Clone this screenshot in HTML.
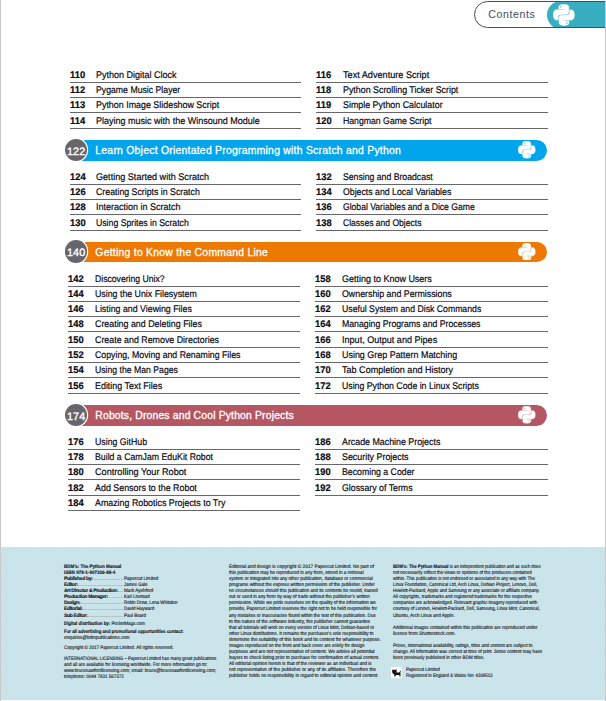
<!DOCTYPE html>
<html><head><meta charset="utf-8"><title>Contents</title>
<style>
html,body{margin:0;padding:0;background:#fff}
body{width:606px;height:701px;position:relative;overflow:hidden;font-family:"Liberation Sans",sans-serif;color:#111}
.edge{position:absolute;top:0;width:1px;height:701px;background:#c8c8c8;z-index:5}
.tab{position:absolute;left:474px;top:1px;width:140px;height:25px;border:1px solid #4c4c52;border-radius:14px 0 0 14px;background:#fff;overflow:hidden}
.tab .teal{position:absolute;left:72px;top:-1px;width:90px;height:28px;background:#3aaec1;border-radius:14px 0 0 14px}
.tab .lbl{position:absolute;left:13.3px;top:0;line-height:25.4px;font-size:10.6px;color:#50566a;white-space:nowrap;-webkit-text-stroke:0.1px #50566a}
.py{position:absolute}
.n,.t{position:absolute;font-size:9.7px;line-height:12px;white-space:nowrap;color:#0a0a14;transform-origin:0 9.36px;text-rendering:geometricPrecision}
.n{font-weight:bold;transform:scale(0.965,1);-webkit-text-stroke:0.2px #0a0a14}
.t{-webkit-text-stroke:0.2px #0a0a18}
.bar{position:absolute;left:76px;width:471px;border-radius:0 10.4px 10.4px 0}
.ht{position:absolute;left:95.3px;line-height:20.8px;font-size:10.4px;font-weight:normal;color:#fff;white-space:nowrap;-webkit-text-stroke:0.3px #fff}
.circ{position:absolute;left:64.8px;width:22.6px;height:22.6px;border-radius:50%;background:#67666c;box-shadow:0 0 0 1.2px #fff;color:#fff;font-size:10.8px;line-height:26px;text-align:center;letter-spacing:0.05px;-webkit-text-stroke:0.35px #fff;text-rendering:geometricPrecision}
.circ span{margin-right:-0.05px}
.foot{position:absolute;left:1px;top:547px;width:604px;height:153px;background-color:#cbe5ea;background-image:linear-gradient(135deg,#c7e2e8 25%,#cfe7ec 25%,#cfe7ec 50%,#c7e2e8 50%,#c7e2e8 75%,#cfe7ec 75%);background-size:3px 3px}
.fl{position:absolute;font-size:5px;line-height:6px;white-space:nowrap;color:#14141a;transform-origin:0 50%;text-rendering:geometricPrecision;-webkit-text-stroke:0.12px #14141a}
.fk{display:flex;overflow:hidden;transform:none}
.fk b{flex:none;letter-spacing:-0.33px}
.dots{flex:1;overflow:hidden;letter-spacing:0.1px;direction:rtl;text-align:right;-webkit-text-stroke:0;color:#333}
.ln{position:absolute;height:1px;background:#67666c}
</style></head><body>
<div class="edge" style="left:0"></div><div class="edge" style="left:605px"></div>
<div class="tab"><div class="lbl" id="lbl" style="letter-spacing:0.592px">Contents</div><div class="teal"></div></div>

<svg class="py" style="left:553.30px;top:3.85px;width:21.8px;height:21.8px" viewBox="0 0 110 110"><g fill="#fff" stroke="#fff" stroke-width="2.4" stroke-linejoin="round"><path d="M54.3 2C27.5 2 29.2 13.6 29.2 13.6v12h25.5v3.6H19S2 27.3 2 54.3s14.9 26 14.9 26h8.9V67.8s-.5-14.9 14.7-14.9h25.3s14.2.2 14.2-13.700V15.7S82.100 2 54.3 2zM40.2 10.1a4.600 4.600 0 1 1 0 9.2 4.600 4.600 0 1 1 0-9.2z"/><path d="M55.7 108c26.8 0 25.1-11.6 25.1-11.6v-12H55.3v-3.6H91s17 1.9 17-25.1-14.9-26-14.9-26h-8.900v12.5s.5 14.9-14.7 14.9H44.2s-14.2-.2-14.2 13.700v23.500S27.900 108 55.700 108zm14.100-8.100a4.600 4.600 0 1 1 0-9.200 4.600 4.600 0 1 1 0 9.200z"/></g></svg>
<div class="n" style="left:69.5px;top:69.7px">110</div><div class="t" id="r0l0" style="left:95.8px;top:69.7px;transform:scale(0.9283,1)">Python Digital Clock</div>
<div class="n" style="left:69.5px;top:84.7px">112</div><div class="t" id="r0l1" style="left:95.8px;top:84.7px;transform:scale(0.8992,1)">Pygame Music Player</div>
<div class="n" style="left:69.5px;top:99.7px">113</div><div class="t" id="r0l2" style="left:95.8px;top:99.7px;transform:scale(0.9182,1)">Python Image Slideshow Script</div>
<div class="n" style="left:69.5px;top:115.7px">114</div><div class="t" id="r0l3" style="left:95.8px;top:115.7px;transform:scale(0.9303,1)">Playing music with the Winsound Module</div>
<div class="n" style="left:316.1px;top:69.7px">116</div><div class="t" id="r0r0" style="left:342.7px;top:69.7px;transform:scale(0.9418,1)">Text Adventure Script</div>
<div class="n" style="left:316.1px;top:84.7px">118</div><div class="t" id="r0r1" style="left:342.7px;top:84.7px;transform:scale(0.9152,1)">Python Scrolling Ticker Script</div>
<div class="n" style="left:316.1px;top:99.7px">119</div><div class="t" id="r0r2" style="left:342.7px;top:99.7px;transform:scale(0.9157,1)">Simple Python Calculator</div>
<div class="n" style="left:316.1px;top:115.7px">120</div><div class="t" id="r0r3" style="left:342.7px;top:115.7px;transform:scale(0.8975,1)">Hangman Game Script</div>
<div class="bar" style="top:139.9px;height:21.0px;background:#00a5ec"></div>
<div class="ht" id="h1" style="top:140.9px;letter-spacing:0.249px">Learn Object Orientated Programming with Scratch and Python</div>
<div class="circ" style="top:138.70px"><span>122</span></div>
<svg class="py" style="left:518.25px;top:141.20px;width:17.5px;height:17.5px" viewBox="0 0 110 110"><g fill="#fff" stroke="#fff" stroke-width="3.4" stroke-linejoin="round"><path d="M54.3 2C27.5 2 29.2 13.6 29.2 13.6v12h25.5v3.6H19S2 27.3 2 54.3s14.9 26 14.9 26h8.9V67.8s-.5-14.9 14.7-14.9h25.3s14.2.2 14.2-13.700V15.7S82.100 2 54.3 2zM40.2 10.1a4.600 4.600 0 1 1 0 9.2 4.600 4.600 0 1 1 0-9.2z"/><path d="M55.7 108c26.8 0 25.1-11.6 25.1-11.6v-12H55.3v-3.6H91s17 1.9 17-25.1-14.9-26-14.9-26h-8.900v12.5s.5 14.9-14.7 14.9H44.2s-14.2-.2-14.2 13.700v23.500S27.900 108 55.700 108zm14.100-8.100a4.600 4.600 0 1 1 0-9.200 4.600 4.600 0 1 1 0 9.200z"/></g></svg>
<div class="n" style="left:69.5px;top:171.7px">124</div><div class="t" id="r1l0" style="left:95.8px;top:171.7px;transform:scale(0.9375,1)">Getting Started with Scratch</div>
<div class="n" style="left:69.5px;top:186.7px">126</div><div class="t" id="r1l1" style="left:95.8px;top:186.7px;transform:scale(0.9052,1)">Creating Scripts in Scratch</div>
<div class="n" style="left:69.5px;top:201.7px">128</div><div class="t" id="r1l2" style="left:95.8px;top:201.7px;transform:scale(0.9278,1)">Interaction in Scratch</div>
<div class="n" style="left:69.5px;top:217.7px">130</div><div class="t" id="r1l3" style="left:95.8px;top:217.7px;transform:scale(0.8972,1)">Using Sprites in Scratch</div>
<div class="n" style="left:316.1px;top:171.7px">132</div><div class="t" id="r1r0" style="left:342.7px;top:171.7px;transform:scale(0.8962,1)">Sensing and Broadcast</div>
<div class="n" style="left:316.1px;top:186.7px">134</div><div class="t" id="r1r1" style="left:342.7px;top:186.7px;transform:scale(0.9032,1)">Objects and Local Variables</div>
<div class="n" style="left:316.1px;top:201.7px">136</div><div class="t" id="r1r2" style="left:342.7px;top:201.7px;transform:scale(0.8872,1)">Global Variables and a Dice Game</div>
<div class="n" style="left:316.1px;top:217.7px">138</div><div class="t" id="r1r3" style="left:342.7px;top:217.7px;transform:scale(0.8825,1)">Classes and Objects</div>
<div class="bar" style="top:241.9px;height:20.1px;background:#ee7900"></div>
<div class="ht" id="h2" style="top:243.1px;letter-spacing:0.257px">Getting to Know the Command Line</div>
<div class="circ" style="top:240.25px"><span>140</span></div>
<svg class="py" style="left:518.25px;top:242.75px;width:17.5px;height:17.5px" viewBox="0 0 110 110"><g fill="#fff" stroke="#fff" stroke-width="3.4" stroke-linejoin="round"><path d="M54.3 2C27.5 2 29.2 13.6 29.2 13.6v12h25.5v3.6H19S2 27.3 2 54.3s14.9 26 14.9 26h8.9V67.8s-.5-14.9 14.7-14.9h25.3s14.2.2 14.2-13.700V15.7S82.100 2 54.3 2zM40.2 10.1a4.600 4.600 0 1 1 0 9.2 4.600 4.600 0 1 1 0-9.2z"/><path d="M55.7 108c26.8 0 25.1-11.6 25.1-11.6v-12H55.3v-3.6H91s17 1.9 17-25.1-14.9-26-14.9-26h-8.900v12.5s.5 14.9-14.7 14.9H44.2s-14.2-.2-14.2 13.700v23.500S27.900 108 55.700 108zm14.100-8.100a4.600 4.600 0 1 1 0-9.200 4.600 4.600 0 1 1 0 9.200z"/></g></svg>
<div class="n" style="left:67.9px;top:273.7px">142</div><div class="t" id="r2l0" style="left:94.6px;top:273.7px;transform:scale(0.8908,1)">Discovering Unix?</div>
<div class="n" style="left:67.9px;top:288.7px">144</div><div class="t" id="r2l1" style="left:94.6px;top:288.7px;transform:scale(0.9083,1)">Using the Unix Filesystem</div>
<div class="n" style="left:67.9px;top:303.7px">146</div><div class="t" id="r2l2" style="left:94.6px;top:303.7px;transform:scale(0.9096,1)">Listing and Viewing Files</div>
<div class="n" style="left:67.9px;top:318.7px">148</div><div class="t" id="r2l3" style="left:94.6px;top:318.7px;transform:scale(0.9142,1)">Creating and Deleting Files</div>
<div class="n" style="left:67.9px;top:334.7px">150</div><div class="t" id="r2l4" style="left:94.6px;top:334.7px;transform:scale(0.9139,1)">Create and Remove Directories</div>
<div class="n" style="left:67.9px;top:349.7px">152</div><div class="t" id="r2l5" style="left:94.6px;top:349.7px;transform:scale(0.9036,1)">Copying, Moving and Renaming Files</div>
<div class="n" style="left:67.9px;top:364.7px">154</div><div class="t" id="r2l6" style="left:94.6px;top:364.7px;transform:scale(0.8949,1)">Using the Man Pages</div>
<div class="n" style="left:67.9px;top:380.7px">156</div><div class="t" id="r2l7" style="left:94.6px;top:380.7px;transform:scale(0.9193,1)">Editing Text Files</div>
<div class="n" style="left:315.1px;top:273.7px">158</div><div class="t" id="r2r0" style="left:341.5px;top:273.7px;transform:scale(0.9268,1)">Getting to Know Users</div>
<div class="n" style="left:315.1px;top:288.7px">160</div><div class="t" id="r2r1" style="left:341.5px;top:288.7px;transform:scale(0.9101,1)">Ownership and Permissions</div>
<div class="n" style="left:315.1px;top:303.7px">162</div><div class="t" id="r2r2" style="left:341.5px;top:303.7px;transform:scale(0.8980,1)">Useful System and Disk Commands</div>
<div class="n" style="left:315.1px;top:318.7px">164</div><div class="t" id="r2r3" style="left:341.5px;top:318.7px;transform:scale(0.8991,1)">Managing Programs and Processes</div>
<div class="n" style="left:315.1px;top:334.7px">166</div><div class="t" id="r2r4" style="left:341.5px;top:334.7px;transform:scale(0.9348,1)">Input, Output and Pipes</div>
<div class="n" style="left:315.1px;top:349.7px">168</div><div class="t" id="r2r5" style="left:341.5px;top:349.7px;transform:scale(0.9223,1)">Using Grep Pattern Matching</div>
<div class="n" style="left:315.1px;top:364.7px">170</div><div class="t" id="r2r6" style="left:341.5px;top:364.7px;transform:scale(0.9339,1)">Tab Completion and History</div>
<div class="n" style="left:315.1px;top:380.7px">172</div><div class="t" id="r2r7" style="left:341.5px;top:380.7px;transform:scale(0.9014,1)">Using Python Code in Linux Scripts</div>
<div class="bar" style="top:404.9px;height:20.8px;background:#b45762"></div>
<div class="ht" id="h3" style="top:405.8px;letter-spacing:0.159px">Robots, Drones and Cool Python Projects</div>
<div class="circ" style="top:403.60px"><span>174</span></div>
<svg class="py" style="left:518.25px;top:406.10px;width:17.5px;height:17.5px" viewBox="0 0 110 110"><g fill="#fff" stroke="#fff" stroke-width="3.4" stroke-linejoin="round"><path d="M54.3 2C27.5 2 29.2 13.6 29.2 13.6v12h25.5v3.6H19S2 27.3 2 54.3s14.9 26 14.9 26h8.9V67.8s-.5-14.9 14.7-14.9h25.3s14.2.2 14.2-13.700V15.7S82.100 2 54.3 2zM40.2 10.1a4.600 4.600 0 1 1 0 9.2 4.600 4.600 0 1 1 0-9.2z"/><path d="M55.7 108c26.8 0 25.1-11.6 25.1-11.6v-12H55.3v-3.6H91s17 1.9 17-25.1-14.9-26-14.9-26h-8.900v12.5s.5 14.9-14.7 14.9H44.2s-14.2-.2-14.2 13.700v23.500S27.900 108 55.700 108zm14.100-8.100a4.600 4.600 0 1 1 0-9.200 4.600 4.600 0 1 1 0 9.200z"/></g></svg>
<div class="n" style="left:67.9px;top:436.7px">176</div><div class="t" id="r3l0" style="left:94.6px;top:436.7px;transform:scale(0.9031,1)">Using GitHub</div>
<div class="n" style="left:67.9px;top:451.7px">178</div><div class="t" id="r3l1" style="left:94.6px;top:451.7px;transform:scale(0.9018,1)">Build a CamJam EduKit Robot</div>
<div class="n" style="left:67.9px;top:466.7px">180</div><div class="t" id="r3l2" style="left:94.6px;top:466.7px;transform:scale(0.9427,1)">Controlling Your Robot</div>
<div class="n" style="left:67.9px;top:482.7px">182</div><div class="t" id="r3l3" style="left:94.6px;top:482.7px;transform:scale(0.9179,1)">Add Sensors to the Robot</div>
<div class="n" style="left:67.9px;top:497.7px">184</div><div class="t" id="r3l4" style="left:94.6px;top:497.7px;transform:scale(0.9134,1)">Amazing Robotics Projects to Try</div>
<div class="n" style="left:315.1px;top:436.7px">186</div><div class="t" id="r3r0" style="left:341.5px;top:436.7px;transform:scale(0.9129,1)">Arcade Machine Projects</div>
<div class="n" style="left:315.1px;top:451.7px">188</div><div class="t" id="r3r1" style="left:341.5px;top:451.7px;transform:scale(0.9157,1)">Security Projects</div>
<div class="n" style="left:315.1px;top:466.7px">190</div><div class="t" id="r3r2" style="left:341.5px;top:466.7px;transform:scale(0.9027,1)">Becoming a Coder</div>
<div class="n" style="left:315.1px;top:482.7px">192</div><div class="t" id="r3r3" style="left:341.5px;top:482.7px;transform:scale(0.9062,1)">Glossary of Terms</div>
<i class="ln" style="left:70px;top:82px;width:231px"></i><i class="ln" style="left:70px;top:97px;width:231px"></i><i class="ln" style="left:70px;top:112px;width:231px"></i><i class="ln" style="left:70px;top:128px;width:231px"></i><i class="ln" style="left:316px;top:82px;width:232px"></i><i class="ln" style="left:316px;top:97px;width:232px"></i><i class="ln" style="left:316px;top:112px;width:232px"></i><i class="ln" style="left:316px;top:128px;width:232px"></i><i class="ln" style="left:70px;top:184px;width:231px"></i><i class="ln" style="left:70px;top:199px;width:231px"></i><i class="ln" style="left:70px;top:214px;width:231px"></i><i class="ln" style="left:70px;top:230px;width:231px"></i><i class="ln" style="left:316px;top:184px;width:232px"></i><i class="ln" style="left:316px;top:199px;width:232px"></i><i class="ln" style="left:316px;top:214px;width:232px"></i><i class="ln" style="left:316px;top:230px;width:232px"></i><i class="ln" style="left:68px;top:286px;width:232px"></i><i class="ln" style="left:68px;top:301px;width:232px"></i><i class="ln" style="left:68px;top:316px;width:232px"></i><i class="ln" style="left:68px;top:331px;width:232px"></i><i class="ln" style="left:68px;top:347px;width:232px"></i><i class="ln" style="left:68px;top:362px;width:232px"></i><i class="ln" style="left:68px;top:377px;width:232px"></i><i class="ln" style="left:68px;top:393px;width:232px"></i><i class="ln" style="left:315px;top:286px;width:233px"></i><i class="ln" style="left:315px;top:301px;width:233px"></i><i class="ln" style="left:315px;top:316px;width:233px"></i><i class="ln" style="left:315px;top:331px;width:233px"></i><i class="ln" style="left:315px;top:347px;width:233px"></i><i class="ln" style="left:315px;top:362px;width:233px"></i><i class="ln" style="left:315px;top:377px;width:233px"></i><i class="ln" style="left:315px;top:393px;width:233px"></i><i class="ln" style="left:68px;top:449px;width:232px"></i><i class="ln" style="left:68px;top:464px;width:232px"></i><i class="ln" style="left:68px;top:479px;width:232px"></i><i class="ln" style="left:68px;top:495px;width:232px"></i><i class="ln" style="left:68px;top:510px;width:232px"></i><i class="ln" style="left:315px;top:449px;width:233px"></i><i class="ln" style="left:315px;top:464px;width:233px"></i><i class="ln" style="left:315px;top:479px;width:233px"></i><i class="ln" style="left:315px;top:495px;width:233px"></i>
<div class="foot"></div>
<div class="fl" id="f0_0" style="left:64.0px;top:564.27px;transform:scaleX(0.8925)"><b>BDM’s: The Python Manual</b></div>
<div class="fl" id="f0_1" style="left:64.0px;top:570.07px;transform:scaleX(0.9133)"><b>ISBN 978-1-907306-88-4</b></div>
<div class="fl fk" style="left:64.0px;top:575.87px;width:59.4px"><b>Published by:</b><span class="dots">............................................................</span></div>
<div class="fl" id="f0_2" style="left:124.0px;top:575.87px;transform:scaleX(0.9135)">Papercut Limited</div>
<div class="fl fk" style="left:64.0px;top:581.97px;width:59.4px"><b>Editor:</b><span class="dots">............................................................</span></div>
<div class="fl" id="f0_3" style="left:124.0px;top:581.97px;transform:scaleX(0.8828)">James Gale</div>
<div class="fl fk" style="left:64.0px;top:587.87px;width:59.4px"><b>Art Director &amp; Production:</b><span class="dots">............................................................</span></div>
<div class="fl" id="f0_4" style="left:124.0px;top:587.87px;transform:scaleX(0.9214)">Mark Ayshford</div>
<div class="fl fk" style="left:64.0px;top:593.87px;width:59.4px"><b>Production Manager:</b><span class="dots">............................................................</span></div>
<div class="fl" id="f0_5" style="left:124.0px;top:593.87px;transform:scaleX(0.8821)">Karl Linstead</div>
<div class="fl fk" style="left:64.0px;top:599.77px;width:59.4px"><b>Design:</b><span class="dots">............................................................</span></div>
<div class="fl" id="f0_6" style="left:124.0px;top:599.77px;transform:scaleX(0.8829)">Robin Drew, Lena Whitaker</div>
<div class="fl fk" style="left:64.0px;top:605.97px;width:59.4px"><b>Editorial:</b><span class="dots">............................................................</span></div>
<div class="fl" id="f0_7" style="left:124.0px;top:605.97px;transform:scaleX(0.8906)">David Hayward</div>
<div class="fl fk" style="left:64.0px;top:612.87px;width:59.4px"><b>Sub Editor:</b><span class="dots">............................................................</span></div>
<div class="fl" id="f0_8" style="left:124.0px;top:612.87px;transform:scaleX(0.8912)">Paul Beard</div>
<div class="fl" id="f0_9" style="left:64.0px;top:620.97px;transform:scaleX(0.8705)"><b>Digital distribution by:</b> PocketMags.com</div>
<div class="fl" id="f0_10" style="left:64.0px;top:628.87px;transform:scaleX(0.8676)"><b>For all advertising and promotional opportunities contact:</b></div>
<div class="fl" id="f0_11" style="left:64.0px;top:634.77px;transform:scaleX(0.9049)">enquiries@bdmpublications.com</div>
<div class="fl" id="f0_12" style="left:64.0px;top:644.87px;transform:scaleX(0.9000)">Copyright © 2017 Papercut Limited. All rights reserved.</div>
<div class="fl" id="f0_13" style="left:64.0px;top:655.57px;transform:scaleX(0.8741)">INTERNATIONAL LICENSING – Papercut Limited has many great publications</div>
<div class="fl" id="f0_14" style="left:64.0px;top:661.57px;transform:scaleX(0.9000)">and all are available for licensing worldwide.  For more information go to:</div>
<div class="fl" id="f0_15" style="left:64.0px;top:667.77px;transform:scaleX(0.9000)">www.brucesawfordlicensing.com; email: bruce@brucesawfordlicensing.com;</div>
<div class="fl" id="f0_16" style="left:64.0px;top:673.57px;transform:scaleX(0.8984)">telephone: 0044 7831 567372</div>
<div class="fl" id="f1_0" style="left:229.0px;top:563.87px;transform:scaleX(0.9549)">Editorial and design is copyright © 2017 Papercut Limited. No part of</div>
<div class="fl" id="f1_1" style="left:229.0px;top:569.87px;transform:scaleX(0.9038)">this publication may be reproduced in any form, stored in a retrieval</div>
<div class="fl" id="f1_2" style="left:229.0px;top:575.87px;transform:scaleX(0.9079)">system or integrated into any other publication, database or commercial</div>
<div class="fl" id="f1_3" style="left:229.0px;top:581.87px;transform:scaleX(0.9175)">programs without the express written permission of the publisher. Under</div>
<div class="fl" id="f1_4" style="left:229.0px;top:587.87px;transform:scaleX(0.8977)">no circumstances should this publication and its contents be resold, loaned</div>
<div class="fl" id="f1_5" style="left:229.0px;top:593.87px;transform:scaleX(0.9179)">out or used in any form by way of trade without the publisher’s written</div>
<div class="fl" id="f1_6" style="left:229.0px;top:599.87px;transform:scaleX(0.9098)">permission. While we pride ourselves on the quality of the information we</div>
<div class="fl" id="f1_7" style="left:229.0px;top:605.87px;transform:scaleX(0.9099)">provide, Papercut Limited reserves the right not to be held responsible for</div>
<div class="fl" id="f1_8" style="left:229.0px;top:612.87px;transform:scaleX(0.9057)">any mistakes or inaccuracies found within the text of this publication. Due</div>
<div class="fl" id="f1_9" style="left:229.0px;top:618.87px;transform:scaleX(0.9255)">to the nature of the software industry, the publisher cannot guarantee</div>
<div class="fl" id="f1_10" style="left:229.0px;top:624.87px;transform:scaleX(0.9000)">that all tutorials will work on every version of Linux Mint, Debian-based or</div>
<div class="fl" id="f1_11" style="left:229.0px;top:630.87px;transform:scaleX(0.9056)">other Linux distributions. It remains the purchaser’s sole responsibility to</div>
<div class="fl" id="f1_12" style="left:229.0px;top:636.87px;transform:scaleX(0.9312)">determine the suitability of this book and its content for whatever purpose.</div>
<div class="fl" id="f1_13" style="left:229.0px;top:642.87px;transform:scaleX(0.8953)">Images reproduced on the front and back cover are solely for design</div>
<div class="fl" id="f1_14" style="left:229.0px;top:648.87px;transform:scaleX(0.9312)">purposes and are not representative of content. We advise all potential</div>
<div class="fl" id="f1_15" style="left:229.0px;top:654.87px;transform:scaleX(0.9203)">buyers to check listing prior to purchase for confirmation of actual content.</div>
<div class="fl" id="f1_16" style="left:229.0px;top:660.87px;transform:scaleX(0.9094)">All editorial opinion herein is that of the reviewer as an individual and is</div>
<div class="fl" id="f1_17" style="left:229.0px;top:666.87px;transform:scaleX(0.9472)">not representative of the publisher or any of its affiliates. Therefore the</div>
<div class="fl" id="f1_18" style="left:229.0px;top:672.87px;transform:scaleX(0.9187)">publisher holds no responsibility in regard to editorial opinion and content.</div>
<div class="fl" id="f2_0" style="left:393.0px;top:563.87px;transform:scaleX(0.8634)"><b>BDM’s: The Python Manual</b> is an independent publication and as such does</div>
<div class="fl" id="f2_1" style="left:393.0px;top:569.87px;transform:scaleX(0.8834)">not necessarily reflect the views or opinions of the producers contained</div>
<div class="fl" id="f2_2" style="left:393.0px;top:575.87px;transform:scaleX(0.8754)">within. This publication is not endorsed or associated in any way with The</div>
<div class="fl" id="f2_3" style="left:393.0px;top:581.87px;transform:scaleX(0.8730)">Linux Foundation, Canonical Ltd, Arch Linux, Debian Project, Lenovo, Dell,</div>
<div class="fl" id="f2_4" style="left:393.0px;top:587.87px;transform:scaleX(0.8748)">Hewlett-Packard, Apple and Samsung or any associate or affiliate company.</div>
<div class="fl" id="f2_5" style="left:393.0px;top:593.87px;transform:scaleX(0.8844)">All copyrights, trademarks and registered trademarks for the respective</div>
<div class="fl" id="f2_6" style="left:393.0px;top:599.87px;transform:scaleX(0.8863)">companies are acknowledged. Relevant graphic imagery reproduced with</div>
<div class="fl" id="f2_7" style="left:393.0px;top:605.97px;transform:scaleX(0.8689)">courtesy of Lenovo, Hewlett-Packard, Dell, Samsung, Linux Mint, Canonical,</div>
<div class="fl" id="f2_8" style="left:393.0px;top:612.87px;transform:scaleX(0.9174)">Ubuntu, Arch Linux and Apple.</div>
<div class="fl" id="f2_9" style="left:393.0px;top:624.97px;transform:scaleX(0.9000)">Additional images contained within this publication are reproduced under</div>
<div class="fl" id="f2_10" style="left:393.0px;top:630.77px;transform:scaleX(0.9171)">licence from Shutterstock.com.</div>
<div class="fl" id="f2_11" style="left:393.0px;top:642.67px;transform:scaleX(0.8834)">Prices, international availability, ratings, titles and content are subject to</div>
<div class="fl" id="f2_12" style="left:393.0px;top:648.77px;transform:scaleX(0.8913)">change. All information was correct at time of print. Some content may have</div>
<div class="fl" id="f2_13" style="left:393.0px;top:654.87px;transform:scaleX(0.9010)">been previously published in other BDM titles.</div>
<div class="fl" id="f3_0" style="left:406.4px;top:666.87px;transform:scaleX(0.9000)">Papercut Limited</div>
<div class="fl" id="f3_1" style="left:406.4px;top:672.87px;transform:scaleX(0.8736)">Registered in England &amp; Wales No: 4308513</div>
<svg class="cat" viewBox="0 0 107 110" style="position:absolute;left:391px;top:667px;width:10.7px;height:11px"><rect width="107" height="110" fill="#fff"/><path fill="#111" d="M12 22 L22 30 C28 27 38 27 44 30 L56 20 L56 40 C58 46 57 52 54 56 L82 56 C86 50 90 42 96 36 L99 39 C95 46 94 54 95 62 L95 96 L84 96 L84 80 L48 80 L46 96 L33 96 L34 76 C22 72 12 62 12 48 Z"/></svg>
</body></html>
